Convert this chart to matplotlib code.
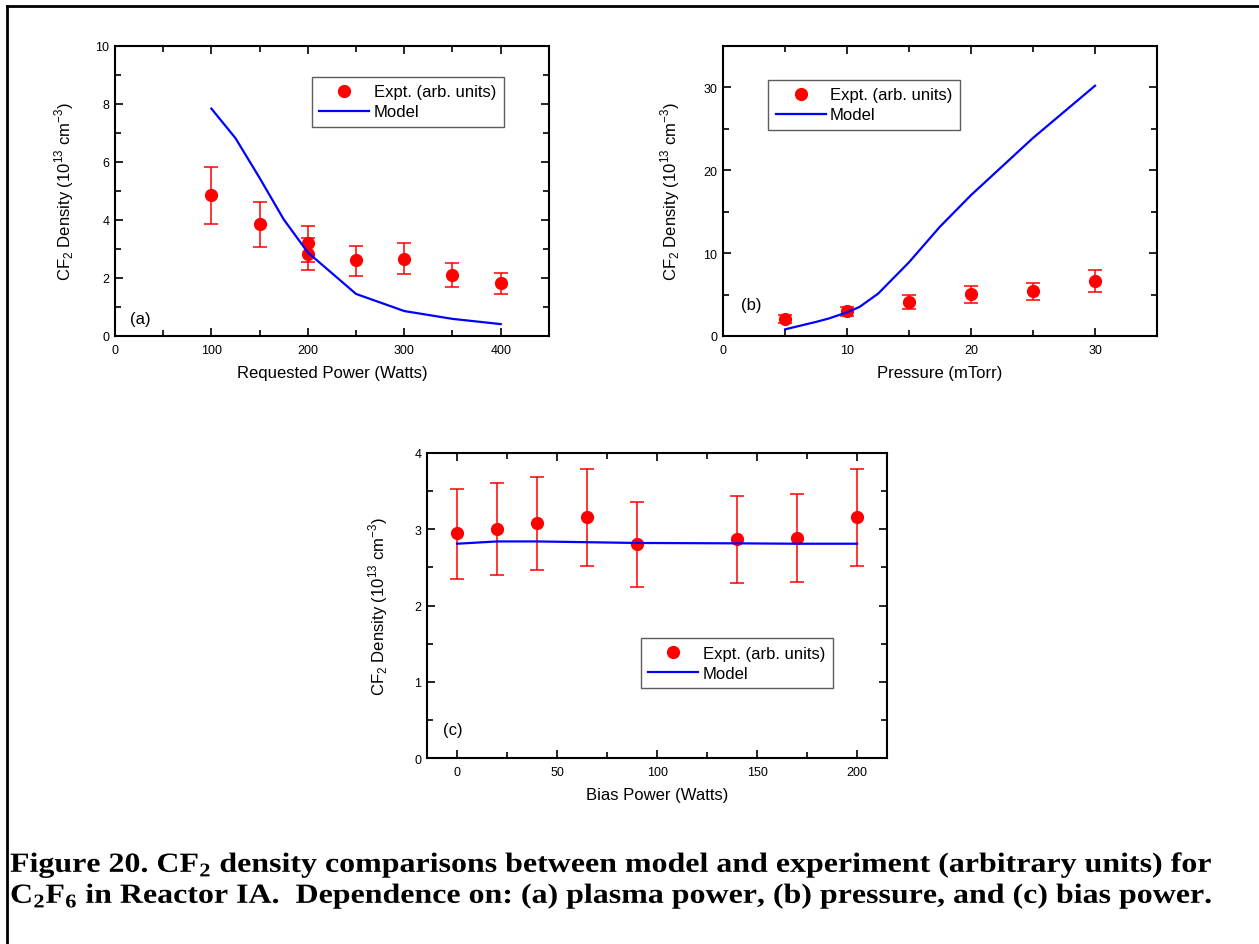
import numpy as np
import matplotlib
matplotlib.use("Agg")
import matplotlib.pyplot as plt
from matplotlib.lines import Line2D
from matplotlib.ticker import MultipleLocator
from matplotlib.patheffects import AbstractPathEffect
from matplotlib.transforms import Affine2D

plt.rcParams['font.family'] = ['Liberation Sans', 'DejaVu Sans']
plt.rcParams['mathtext.fontset'] = 'custom'
plt.rcParams['mathtext.rm'] = 'Liberation Sans'
plt.rcParams['mathtext.bf'] = 'Liberation Serif:bold'

# (a) requested power
pow_x = [100, 150, 200, 200, 250, 300, 350, 400]
pow_y = [4.85, 3.86, 3.19, 2.83, 2.61, 2.67, 2.09, 1.81]
pow_lo = [3.87, 3.07, 2.55, 2.26, 2.07, 2.13, 1.68, 1.44]
pow_hi = [5.83, 4.62, 3.80, 3.39, 3.12, 3.20, 2.50, 2.16]
pow_mx = [100, 125, 150, 175, 200, 250, 300, 350, 400]
pow_my = [7.84, 6.82, 5.45, 4.02, 2.88, 1.45, 0.86, 0.59, 0.41]

# (b) pressure
pr_x = [5, 10, 15, 20, 25, 30]
pr_y = [2.06, 3.02, 4.11, 5.08, 5.44, 6.65]
pr_lo = [1.57, 2.42, 3.31, 4.03, 4.31, 5.28]
pr_hi = [2.50, 3.55, 4.92, 6.09, 6.45, 7.94]
pr_mx = [5, 7.5, 8.5, 10, 11, 12.5, 15, 17.5, 20, 25, 30]
pr_my = [0.8, 1.7, 2.1, 2.85, 3.5, 5.1, 8.9, 13.2, 17.0, 23.9, 30.2]

# (c) bias power
bi_x = [0, 20, 40, 65, 90, 140, 170, 200]
bi_y = [2.95, 3.00, 3.08, 3.16, 2.81, 2.87, 2.89, 3.16]
bi_lo = [2.35, 2.40, 2.46, 2.52, 2.24, 2.29, 2.31, 2.52]
bi_hi = [3.53, 3.60, 3.69, 3.79, 3.36, 3.44, 3.46, 3.79]
bi_mx = [0, 20, 40, 65, 90, 140, 170, 200]
bi_my = [2.81, 2.84, 2.84, 2.83, 2.82, 2.815, 2.81, 2.81]

ylab = r'CF$_2$ Density (10$^{13}$ cm$^{-3}$)'


class Stretch(AbstractPathEffect):
    # widen text horizontally about x0 (pixels)
    def __init__(self, sx, x0):
        super().__init__()
        self.sx = sx
        self.x0 = x0

    def draw_path(self, renderer, gc, tpath, affine, rgbFace=None):
        t = affine + Affine2D().translate(-self.x0, 0).scale(self.sx, 1).translate(self.x0, 0)
        renderer.draw_path(gc, tpath, t, rgbFace)


fig = plt.figure(figsize=(12.59, 9.45), dpi=100)


def panel(rect, x, y, lo, hi, mx, my, xlim, ylim, xmaj, xmin, ymaj, ymin,
          xlabel, tag, tag_pos, leg_box, ylab_x):
    ax = fig.add_axes(rect)
    y = np.array(y)
    err = [y - np.array(lo), np.array(hi) - y]
    ax.errorbar(x, y, yerr=err, fmt='o', color='red', ms=8.5, capsize=5,
                elinewidth=1.1, capthick=1.1, zorder=3)
    ax.plot(mx, my, color='blue', lw=1.6, zorder=4)
    ax.set_xlim(*xlim)
    ax.set_ylim(*ylim)
    ax.xaxis.set_major_locator(MultipleLocator(xmaj))
    ax.xaxis.set_minor_locator(MultipleLocator(xmin))
    ax.yaxis.set_major_locator(MultipleLocator(ymaj))
    ax.yaxis.set_minor_locator(MultipleLocator(ymin))
    ax.tick_params(which='both', direction='in', top=True, right=True,
                   labelsize=9, width=1.2)
    ax.tick_params(axis='x', pad=6)
    ax.tick_params(axis='y', pad=4)
    ax.tick_params(which='major', length=6)
    ax.tick_params(which='minor', length=4)
    for s in ax.spines.values():
        s.set_linewidth(1.5)
    ax.set_xlabel(xlabel, fontsize=12, labelpad=6)
    ax.set_ylabel(ylab, fontsize=12)
    ax.yaxis.set_label_coords(ylab_x, 0.5)
    ax.text(tag_pos[0], tag_pos[1], tag, transform=ax.transAxes,
            fontsize=12, va='bottom')
    handles = [Line2D([], [], ls='none', marker='o', color='red', ms=8.5),
               Line2D([], [], color='blue', lw=1.6)]
    leg = ax.legend(handles, ['Expt. (arb. units)', 'Model'],
                    loc='upper left', bbox_to_anchor=leg_box,
                    fontsize=12, frameon=True, fancybox=False,
                    edgecolor='#333333', borderpad=0.45, labelspacing=0.3,
                    handlelength=3.0, handletextpad=0.25, borderaxespad=0)
    leg.get_frame().set_linewidth(1)
    return ax


panel([0.0913, 0.6434, 0.3447, 0.3069], pow_x, pow_y, pow_lo, pow_hi,
      pow_mx, pow_my, (0, 450), (0, 10), 100, 50, 2, 1,
      'Requested Power (Watts)', '(a)', (0.035, 0.034), (0.454, 0.893), -0.09)
panel([0.5743, 0.6434, 0.3447, 0.3069], pr_x, pr_y, pr_lo, pr_hi,
      pr_mx, pr_my, (0, 35), (0, 35), 10, 5, 10, 5,
      'Pressure (mTorr)', '(b)', (0.041, 0.083), (0.104, 0.883), -0.095)
panel([0.3392, 0.1968, 0.3654, 0.3228], bi_x, bi_y, bi_lo, bi_hi,
      bi_mx, bi_my, (-15, 215), (0, 4), 50, 25, 1, 0.5,
      'Bias Power (Watts)', '(c)', (0.035, 0.069), (0.465, 0.393), -0.08)

fig.add_artist(Line2D([7 / 1259, 1], [1 - 7 / 945, 1 - 7 / 945],
                      transform=fig.transFigure, color='black', lw=2))
fig.add_artist(Line2D([7 / 1259, 7 / 1259], [0, 1 - 7 / 945],
                      transform=fig.transFigure, color='black', lw=2))

cap_font = ['Liberation Serif', 'DejaVu Serif']
cap_lines = [
    r'Figure 20. CF$_\mathbf{2}$ density comparisons between model and experiment (arbitrary units) for',
    r'C$_\mathbf{2}$F$_\mathbf{6}$ in Reactor IA.  Dependence on: (a) plasma power, (b) pressure, and (c) bias power.',
]
cap_base = [873, 904]
cap_texts = []
for s, yb in zip(cap_lines, cap_base):
    cap_texts.append(fig.text(10 / 1259, 1 - yb / 945, s, fontsize=20,
                              fontweight='bold', family=cap_font,
                              va='baseline'))

fig.canvas.draw()
for t in cap_texts:
    w = t.get_window_extent().width
    t.set_path_effects([Stretch((1212 - 10) / w, 10)])

fig.savefig('out.png', dpi=100)
